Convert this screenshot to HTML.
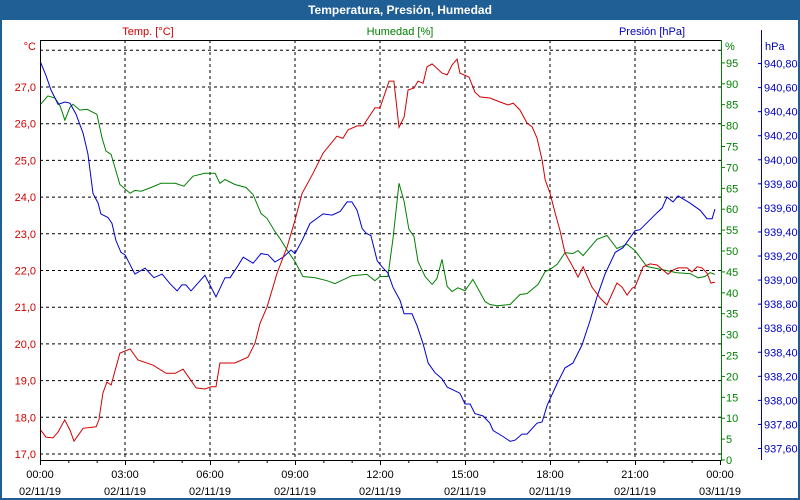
<!DOCTYPE html>
<html><head><meta charset="utf-8"><style>
body{margin:0;background:#fff;}
#wrap{position:relative;width:800px;height:500px;overflow:hidden;font-family:"Liberation Sans",sans-serif;}
</style></head><body>
<div id="wrap">
<svg id="chart" width="800" height="500" xmlns="http://www.w3.org/2000/svg" font-family="Liberation Sans, sans-serif" font-size="11">
<rect x="0" y="0" width="800" height="500" fill="#1f5f96"/>
<rect x="2" y="20" width="796" height="478" fill="#fff"/>
<text x="400" y="14" text-anchor="middle" fill="#fff" font-weight="bold" font-size="12">Temperatura, Presión, Humedad</text>
<text x="148" y="35" text-anchor="middle" fill="#d00000">Temp. [°C]</text>
<text x="400" y="35" text-anchor="middle" fill="#008000">Humedad [%]</text>
<text x="652" y="35" text-anchor="middle" fill="#0000c0">Presión [hPa]</text>
<text x="36" y="50" text-anchor="end" fill="#d00000">°C</text>
<text x="725" y="50" fill="#008000">%</text>
<text x="765" y="50" fill="#0000c0">hPa</text>
<g id="grid"></g>
<g id="axes"></g>
<g id="series"></g>
</svg>
</div>
<script>
const tempTimes=[0.02,0.21,0.46,0.64,0.87,1.06,1.2,1.52,1.98,2.08,2.22,2.36,2.51,2.82,3.18,3.46,3.99,4.45,4.77,5.05,5.51,5.82,6.04,6.21,6.35,6.88,7.34,7.59,7.77,8.01,8.37,8.72,9.0,9.25,9.64,9.99,10.48,10.69,10.87,11.19,11.4,11.82,12.0,12.32,12.49,12.67,12.85,12.99,13.2,13.34,13.52,13.66,13.84,14.19,14.37,14.54,14.72,14.82,15.14,15.35,15.53,15.88,16.24,16.52,16.7,16.94,17.19,17.37,17.54,17.72,17.83,18.0,18.18,18.35,18.53,18.81,18.99,19.17,19.48,19.77,20.01,20.36,20.54,20.72,20.9,21.0,21.29,21.53,21.78,21.99,22.17,22.34,22.52,22.84,23.01,23.19,23.37,23.54,23.68,23.82];
const tempValues=[17.65,17.46,17.44,17.6,17.93,17.65,17.35,17.7,17.74,17.93,18.66,18.96,18.88,19.75,19.86,19.56,19.42,19.2,19.2,19.31,18.8,18.77,18.83,18.83,19.48,19.48,19.64,20.02,20.57,21.0,21.93,22.64,23.37,24.1,24.65,25.2,25.66,25.6,25.83,25.94,25.94,26.43,26.43,27.16,27.16,25.9,26.18,26.92,26.97,27.16,27.1,27.55,27.63,27.38,27.33,27.6,27.76,27.38,27.27,26.86,26.73,26.7,26.59,26.51,26.56,26.37,26.02,25.91,25.61,25.01,24.47,24.11,23.57,23.1,22.48,22.1,21.82,22.1,21.55,21.25,21.06,21.66,21.55,21.33,21.52,21.55,22.1,22.18,22.15,22.01,21.9,22.01,22.07,22.07,21.96,22.1,22.07,21.93,21.66,21.68];
const humTimes=[0.02,0.28,0.53,0.71,0.88,1.06,1.16,1.41,1.66,2.01,2.19,2.33,2.51,2.82,3.18,3.35,3.57,3.92,4.27,4.77,5.08,5.4,5.82,6.18,6.35,6.53,6.88,7.27,7.52,7.8,8.01,8.29,8.47,8.75,9.0,9.28,9.71,10.13,10.41,11.01,11.54,11.82,12.0,12.28,12.46,12.67,12.85,13.02,13.2,13.34,13.59,13.84,14.01,14.19,14.37,14.54,14.75,15.0,15.28,15.46,15.71,15.88,16.13,16.59,16.94,17.19,17.58,17.83,18.0,18.25,18.53,18.81,18.99,19.17,19.66,20.01,20.36,20.72,21.0,21.42,21.78,22.13,22.48,22.94,23.23,23.47,23.65,23.82];
const humValues=[85.1,87.1,86.6,84.7,81.3,84.4,85.1,83.7,83.9,82.7,77.0,73.9,73.1,65.9,63.8,64.5,64.3,65.2,66.2,66.2,65.5,67.9,68.6,68.6,66.2,67.1,65.9,65.2,63.5,59.0,57.8,54.7,53.0,49.9,47.5,43.9,43.6,42.9,42.2,44.1,44.4,42.9,43.9,43.9,53.0,66.2,61.9,55.2,53.5,47.5,43.9,42.0,43.4,48.0,41.5,40.3,41.2,40.5,43.2,41.0,37.9,37.2,36.9,37.2,39.6,39.8,42.0,45.1,45.6,46.8,49.6,49.4,50.1,48.9,52.8,53.7,50.6,51.6,50.1,46.3,45.8,45.3,44.8,44.6,43.6,43.9,44.8,44.4];
const presTimes=[0.02,0.21,0.39,0.64,0.88,1.06,1.27,1.52,1.69,1.87,2.05,2.15,2.4,2.54,2.68,2.86,3.0,3.35,3.71,4.02,4.31,4.59,4.84,5.01,5.15,5.33,5.82,6.21,6.53,6.71,6.99,7.17,7.52,7.8,8.05,8.29,8.58,8.86,9.0,9.25,9.53,9.99,10.31,10.59,10.84,11.01,11.19,11.37,11.51,11.68,11.9,12.11,12.28,12.46,12.71,12.85,13.13,13.31,13.52,13.7,13.94,14.19,14.37,14.82,15.0,15.18,15.35,15.64,15.88,15.99,16.34,16.59,16.77,17.01,17.19,17.54,17.72,17.9,18.25,18.53,18.81,19.13,19.41,19.66,19.94,20.3,20.58,21.0,21.18,21.78,21.96,22.13,22.34,22.52,22.94,23.3,23.54,23.72,23.82];
const presValues=[940.81,940.70,940.58,940.46,940.48,940.47,940.38,940.22,940.05,939.72,939.64,939.55,939.52,939.47,939.33,939.23,939.21,939.05,939.10,939.02,939.05,938.97,938.91,938.96,938.96,938.91,939.04,938.86,939.02,939.02,939.12,939.19,939.14,939.22,939.21,939.15,939.19,939.25,939.22,939.33,939.47,939.55,939.54,939.57,939.65,939.65,939.58,939.43,939.39,939.37,939.16,939.10,939.06,938.94,938.83,938.72,938.72,938.62,938.47,938.31,938.23,938.18,938.11,938.06,937.97,937.97,937.89,937.87,937.81,937.75,937.70,937.66,937.67,937.72,937.72,937.81,937.82,937.96,938.14,938.27,938.31,938.46,938.66,938.86,939.05,939.23,939.27,939.41,939.42,939.56,939.60,939.69,939.65,939.70,939.64,939.58,939.51,939.51,939.59];
const tempTicks=[17,18,19,20,21,22,23,24,25,26,27];
const tempGrid=[17,18,19,20,21,22,23,24,25,26,27,28];
const humTicks=[0,5,10,15,20,25,30,35,40,45,50,55,60,65,70,75,80,85,90,95];
const presTicks=[937.6,937.8,938.0,938.2,938.4,938.6,938.8,939.0,939.2,939.4,939.6,939.8,940.0,940.2,940.4,940.6,940.8];
const hourTicks=[0,3,6,9,12,15,18,21,24];
const hourLabels=["00:00","03:00","06:00","09:00","12:00","15:00","18:00","21:00","00:00"];
const dateLabels=["02/11/19","02/11/19","02/11/19","02/11/19","02/11/19","02/11/19","02/11/19","02/11/19","03/11/19"];

const X0=40,X1=720,YT=40,YB=460;
const xs=h=>X0+(X1-X0)*h/24;
const yTemp=v=>454-(v-17)*36.7;
const yHum=v=>460-v*4.18;
const yPres=v=>448.5-(v-937.6)*120.3;
const NS="http://www.w3.org/2000/svg";
function mk(parent,tag,attrs,text){const e=document.createElementNS(NS,tag);for(const k in attrs)e.setAttribute(k,attrs[k]);if(text!==undefined)e.textContent=text;parent.appendChild(e);return e;}
const grid=document.getElementById('grid'),axes=document.getElementById('axes'),series=document.getElementById('series');
tempGrid.forEach(v=>{const l=mk(grid,'line',{x1:X0,x2:721,y1:yTemp(v),y2:yTemp(v),stroke:'#000','stroke-dasharray':'3,3','stroke-width':1});

});
hourTicks.slice(1,-1).forEach(h=>{const l=mk(grid,'line',{x1:xs(h),x2:xs(h),y1:YT,y2:YB,stroke:'#000','stroke-dasharray':'3,3','stroke-width':1});

});
// frame lines
let a=mk(axes,'line',{x1:X0,x2:721,y1:YT+0.5,y2:YT+0.5,stroke:'#000'});


a=mk(axes,'line',{x1:X0+0.5,x2:X0+0.5,y1:YT,y2:YB,stroke:'#000'});


a=mk(axes,'line',{x1:X0,x2:721,y1:YB+0.5,y2:YB+0.5,stroke:'#000'});


a=mk(axes,'line',{x1:721.5,x2:721.5,y1:YT,y2:YB+1,stroke:'#008000'});


a=mk(axes,'line',{x1:761.5,x2:761.5,y1:YT-10,y2:YB,stroke:'#0000c0'});


tempTicks.forEach(v=>{const t=mk(axes,'text',{x:36,y:yTemp(v)+4,'text-anchor':'end',fill:'#d00000'},v.toFixed(1).replace('.',','));

});
humTicks.forEach(v=>{const tk=mk(axes,'line',{x1:721,x2:725,y1:yHum(v),y2:yHum(v),stroke:'#008000'});


const t=mk(axes,'text',{x:726,y:yHum(v)+4,fill:'#008000'},String(v));

});
presTicks.forEach(v=>{const tk=mk(axes,'line',{x1:758,x2:762,y1:yPres(v),y2:yPres(v),stroke:'#0000c0'});


const t=mk(axes,'text',{x:764,y:yPres(v)+4,fill:'#0000c0'},v.toFixed(2).replace('.',','));

});
for(let h=0;h<=24;h++){const tk=mk(axes,'line',{x1:xs(h)+0.5,x2:xs(h)+0.5,y1:YB,y2:YB+(h%3===0?5:3),stroke:'#000'});

}
hourTicks.forEach((h,i)=>{const t=mk(axes,'text',{x:xs(h),y:478,'text-anchor':'middle',fill:'#000'},hourLabels[i]);


const d=mk(axes,'text',{x:xs(h),y:495,'text-anchor':'middle',fill:'#000'},dateLabels[i]);

});
function line(times,vals,yf,color,name){const n=Math.min(times.length,vals.length);let d='';for(let i=0;i<n;i++)d+=(i?'L':'M')+xs(times[i]).toFixed(1)+','+yf(vals[i]).toFixed(1);
const p=mk(series,'path',{d:d,fill:'none',stroke:color,'stroke-width':1});

}
line(humTimes,humValues,yHum,'#008000','humidity-line');
line(presTimes,presValues,yPres,'#0000d0','pressure-line');
line(tempTimes,tempValues,yTemp,'#d00000','temperature-line');
</script>
</body></html>
